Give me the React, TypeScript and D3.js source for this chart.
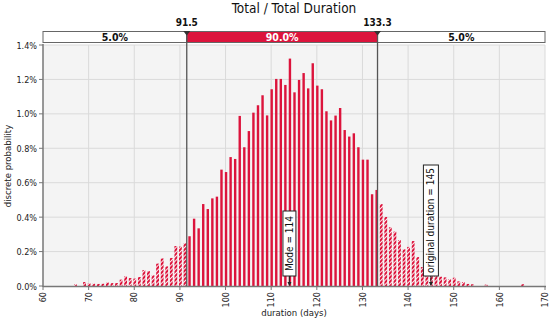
import React from "react";
import * as d3 from "d3";

const days: number[] = [
  67, 68, 69, 70, 71, 72, 73, 74, 75, 76, 77, 78, 79, 80, 81, 82, 83, 84, 85, 86, 87, 88, 89, 90, 91,
  92, 93, 94, 95, 96, 97, 98, 99, 100, 101, 102, 103, 104, 105, 106, 107, 108, 109, 110, 111, 112,
  113, 114, 115, 116, 117, 118, 119, 120, 121, 122, 123, 124, 125, 126, 127, 128, 129, 130, 131, 132,
  133, 134, 135, 136, 137, 138, 139, 140, 141, 142, 143, 144, 145, 146, 147, 148, 149, 150, 151, 152,
  153, 154, 155, 156, 157, 158, 159, 160, 161, 162, 163, 164, 165,
];
const probability: number[] = [
  0.01, 0, 0.023, 0.015, 0.013, 0.012, 0.013, 0.02, 0.017, 0.017, 0.037, 0.056, 0.046, 0.043, 0.052,
  0.093, 0.087, 0.062, 0.13, 0.16, 0.114, 0.163, 0.232, 0.229, 0.248,
  0.289, 0.391, 0.335, 0.476, 0.447, 0.509, 0.519, 0.676, 0.662, 0.749, 0.738, 0.988, 0.806, 0.9,
  1.007, 1.05, 1.108, 0.991, 1.143, 1.203, 1.203, 1.168, 1.321, 1.125, 1.197, 1.237, 1.148, 1.294,
  1.164, 1.143, 1.015, 0.962, 0.99, 1.034, 0.906, 0.868, 0.887, 0.806, 0.734, 0.734, 0.533, 0.558,
  0.476, 0.401, 0.341, 0.316, 0.267, 0.213, 0.227, 0.261, 0.168, 0.11, 0.08, 0.065, 0.058, 0.054,
  0.05, 0.039, 0.048, 0.027, 0.023, 0.012, 0.01, 0, 0, 0.008, 0, 0, 0, 0, 0, 0, 0, 0.01,
];
const xTicks: number[] = [60, 70, 80, 90, 100, 110, 120, 130, 140, 150, 160, 170];
const yTicks: number[] = [0, 0.2, 0.4, 0.6, 0.8, 1.0, 1.2, 1.4];
const lowerBound = 91.5;
const upperBound = 133.3;
const bandLabels: string[] = ["5.0%", "90.0%", "5.0%"];
const modeValue = 114;
const originalDuration = 145;
const title = "Total / Total Duration";
const xLabel = "duration (days)";
const yLabel = "discrete probability";

const FONT = "'DejaVu Sans Condensed', 'Liberation Sans', Arial, sans-serif";
const RED = "#dc143c";

export default function App() {
  const left = 43, right = 545, top = 45, bottom = 286;
  const x = d3.scaleLinear().domain([60, 170]).range([left, right]);
  const y = d3.scaleLinear().domain([0, 1.4]).range([bottom, top]);
  const barTop = 31.5, barBot = 42.5;
  const xl = x(lowerBound), xu = x(upperBound);

  const bars = days.map((d, i) => ({ d, p: probability[i] })).filter((b) => b.p > 0);

  const annot = (val: number, text: string, boxTop: number, w: number) => {
    const cx = x(val);
    return (
      <g key={text}>
        <line x1={cx} x2={cx} y1={bottom - 10} y2={bottom - 1} stroke="#222" strokeWidth={1} />
        <path d={`M${cx - 2},${bottom - 4} L${cx + 2},${bottom - 4} L${cx},${bottom} Z`} fill="#222" />
        <rect x={cx - w / 2} y={boxTop} width={w} height={bottom - 10 - boxTop} fill="#fff" stroke="#222" strokeWidth={1} />
        <text
          transform={`translate(${cx + 3.5},${(boxTop + bottom - 10) / 2}) rotate(-90)`}
          textAnchor="middle"
          fontFamily={FONT}
          fontSize={10}
          fill="#111"
        >
          {text}
        </text>
      </g>
    );
  };

  return (
    <svg width={550} height={322} style={{ position: "absolute", left: 0, top: 0 }}>
      <defs>
        <pattern id="hatch" patternUnits="userSpaceOnUse" width={3} height={3} patternTransform="rotate(45)">
          <rect width={3} height={3} fill="#ffffff" />
          <rect width={2.1} height={3} fill={RED} />
        </pattern>
      </defs>
      <rect x={0} y={0} width={550} height={322} fill="#fff" />
      <text x={294} y={13} textAnchor="middle" fontFamily={FONT} fontSize={13.5} fill="#111">
        {title}
      </text>

      {/* plot background */}
      <rect x={left} y={top} width={right - left} height={bottom - top} fill="#f4f4f4" />
      {yTicks.slice(1).map((t) => (
        <line key={"gy" + t} x1={left} x2={right} y1={y(t)} y2={y(t)} stroke="#dadada" strokeWidth={1} />
      ))}
      {xTicks.slice(1).map((t) => (
        <line key={"gx" + t} x1={x(t)} x2={x(t)} y1={top} y2={bottom} stroke="#dadada" strokeWidth={1} />
      ))}

      {/* bars */}
      {bars.map((b) => {
        const tail = b.d < lowerBound || b.d > upperBound;
        const w = tail ? 2.8 : 2.4;
        return (
          <rect
            key={"b" + b.d}
            x={x(b.d) - w / 2 + 0.5}
            y={y(b.p)}
            width={w}
            height={bottom - y(b.p)}
            fill={tail ? "url(#hatch)" : RED}
          />
        );
      })}

      {/* axes */}
      <line x1={left} x2={left} y1={top - 1} y2={bottom + 1} stroke="#777" strokeWidth={1.5} />
      <line x1={left} x2={right + 1} y1={bottom + 0.5} y2={bottom + 0.5} stroke="#777" strokeWidth={1.5} />
      {yTicks.map((t) => (
        <g key={"yt" + t}>
          <line x1={left - 4} x2={left} y1={y(t)} y2={y(t)} stroke="#777" strokeWidth={1} />
          <text x={left - 6} y={y(t) + 3.5} textAnchor="end" fontFamily={FONT} fontSize={9} fill="#222">
            {d3.format(".1f")(t) + "%"}
          </text>
        </g>
      ))}
      {xTicks.map((t) => (
        <g key={"xt" + t}>
          <line x1={x(t)} x2={x(t)} y1={bottom} y2={bottom + 4} stroke="#777" strokeWidth={1} />
          <text
            transform={`translate(${x(t) + 3.2},${bottom + 6}) rotate(-90)`}
            textAnchor="end"
            fontFamily={FONT}
            fontSize={9}
            fill="#222"
          >
            {t}
          </text>
        </g>
      ))}
      <text x={294} y={316} textAnchor="middle" fontFamily={FONT} fontSize={9.5} fill="#222">
        {xLabel}
      </text>
      <text
        transform={`translate(11,166) rotate(-90)`}
        textAnchor="middle"
        fontFamily={FONT}
        fontSize={9.5}
        fill="#222"
      >
        {yLabel}
      </text>

      {/* annotations */}
      {annot(modeValue, `Mode = ${modeValue}`, 211, 13)}
      {annot(originalDuration, `original duration = ${originalDuration}`, 165, 15)}

      {/* top band */}
      <rect x={left} y={barTop} width={xl - left} height={barBot - barTop} fill="#fff" stroke="#666" strokeWidth={1} />
      <rect x={xl} y={barTop} width={xu - xl} height={barBot - barTop} fill={RED} stroke="#666" strokeWidth={1} />
      <rect x={xu} y={barTop} width={right - xu} height={barBot - barTop} fill="#fff" stroke="#666" strokeWidth={1} />
      <text x={(left + xl) / 2} y={40.5} textAnchor="middle" fontFamily={FONT} fontSize={10.5} fontWeight="bold" fill="#111">
        {bandLabels[0]}
      </text>
      <text x={(xl + xu) / 2} y={40.5} textAnchor="middle" fontFamily={FONT} fontSize={10.5} fontWeight="bold" fill="#fff">
        {bandLabels[1]}
      </text>
      <text x={(xu + right) / 2} y={40.5} textAnchor="middle" fontFamily={FONT} fontSize={10.5} fontWeight="bold" fill="#111">
        {bandLabels[2]}
      </text>

      {/* bound lines */}
      {[lowerBound, upperBound].map((v) => (
        <g key={"bl" + v}>
          <line x1={x(v)} x2={x(v)} y1={barTop} y2={bottom} stroke="#555" strokeWidth={1.3} />
          <path d={`M${x(v) - 3.5},${barTop - 0.5} L${x(v) + 3.5},${barTop - 0.5} L${x(v)},${barTop + 4} Z`} fill="#333" />
          <text x={x(v)} y={25.5} textAnchor="middle" fontFamily={FONT} fontSize={10} fontWeight="bold" fill="#111">
            {d3.format(".1f")(v)}
          </text>
        </g>
      ))}
    </svg>
  );
}
